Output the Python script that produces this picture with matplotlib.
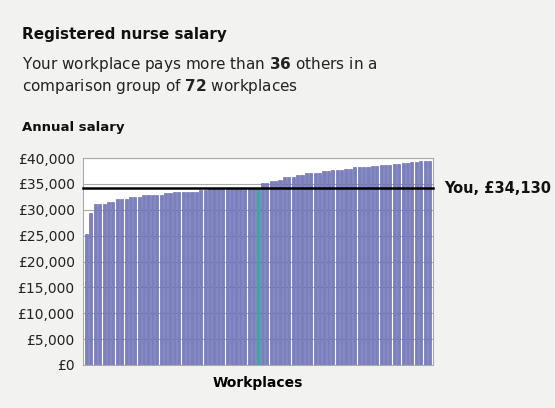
import matplotlib
matplotlib.use("Agg")
import matplotlib.pyplot as plt
from matplotlib.ticker import FuncFormatter

before = [25400, 29400] + [31030]*3 + [31540]*2 + [32050]*3 + [32560]*3 + [32880]*5 + [33200]*2 + [33520]*6 + [33720]*2 + [34040]*5 + [34100]*6
you_value = 34130
after = [35190]*2 + [35510]*2 + [35830] + [36350]*3 + [36730]*2 + [37180]*4 + [37560]*2 + [37690]*3 + [37880]*2 + [38200]*4 + [38460]*2 + [38720]*3 + [38910]*2 + [39040]*2 + [39230]*2 + [39360]*2 + [39490]
values = before + [you_value] + after
colors = ['#7b7fc0']*len(before) + ['#2bb39a'] + ['#7b7fc0']*len(after)
yticks = list(range(0, 40001, 5000))

fig = plt.figure(figsize=(5.55, 4.08), dpi=100)
fig.patch.set_facecolor('#f2f2f0')
ax = fig.add_axes([83/555, 1-365/408, 350/555, 207/408])
ax.set_facecolor('white')
x = range(len(values))
ax.bar(x, values, width=0.72, color=colors, edgecolor='#5c60a8', linewidth=0.4, zorder=2)
ax.set_xlim(-0.8, len(values)-0.2)
ax.set_ylim(0, 40000)
ax.set_yticks(yticks)
ax.yaxis.set_major_formatter(FuncFormatter(lambda v, p: f'£{int(v):,}'))
ax.grid(axis='y', color='#aaaaaa', linewidth=0.8, zorder=0)
ax.set_xticks([])
ax.tick_params(axis='y', length=0, labelsize=10, colors='#222222', pad=6)
for s in ax.spines.values():
    s.set_color('#aaaaaa')
ax.axhline(you_value, color='black', linewidth=1.8, zorder=3, clip_on=False, xmax=1.0)
ax.annotate('You, £34,130', xy=(1.0, you_value), xycoords=('axes fraction', 'data'),
            xytext=(8, 0), textcoords='offset points', va='center', ha='left',
            fontsize=10.5, fontweight='bold', color='#111111')
ax.set_xlabel('Workplaces', fontsize=10, fontweight='bold', labelpad=8)

fig.text(22/555, 1-34/408, 'Registered nurse salary', fontsize=11, fontweight='bold', va='center', color='#111111')
fig.text(22/555, 1-64/408, r'Your workplace pays more than $\mathbf{36}$ others in a', fontsize=11, va='center', color='#222222')
fig.text(22/555, 1-86/408, r'comparison group of $\mathbf{72}$ workplaces', fontsize=11, va='center', color='#222222')
fig.text(22/555, 1-127/408, 'Annual salary', fontsize=9.5, fontweight='bold', va='center', color='#111111')
plt.rcParams['mathtext.fontset'] = 'dejavusans'
fig.savefig('out.png', dpi=100, facecolor=fig.get_facecolor())
